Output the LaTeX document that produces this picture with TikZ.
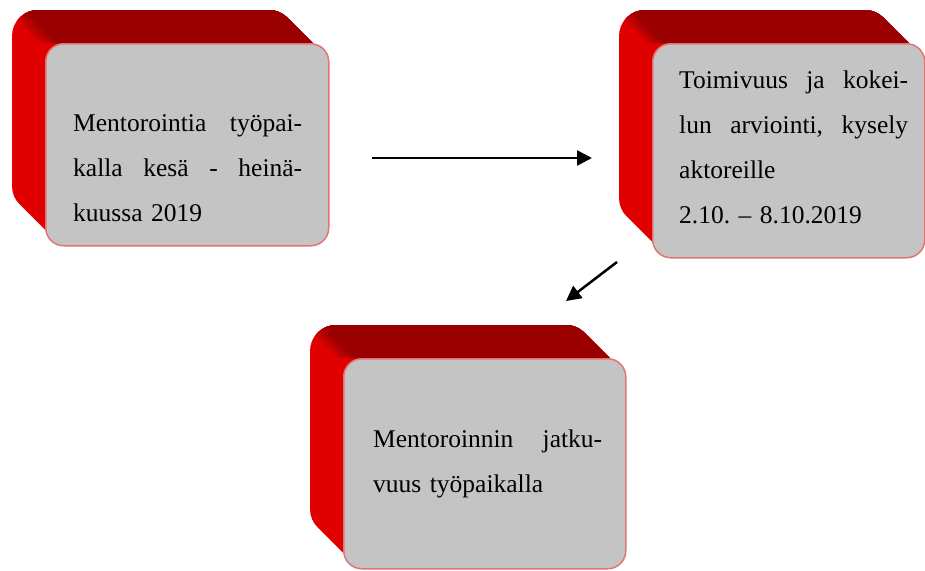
\documentclass[tikz,border=0pt]{standalone}
\usepackage{fontspec}
\setmainfont{Liberation Serif}
\frenchspacing
\usetikzlibrary{arrows.meta}
\definecolor{redL}{HTML}{E00000}
\definecolor{redD}{HTML}{9A0000}
\definecolor{faceG}{HTML}{C4C4C4}
\definecolor{edgeP}{HTML}{E07575}
\tikzset{
  face/.style={draw=edgeP, line width=1.5pt, fill=faceG, rounded corners=18pt,
    anchor=north west, inner sep=0pt},
  txt/.style={anchor=base west, text width=229pt, align=left, inner sep=0pt,
    font=\fontsize{25.5}{45}\selectfont},
  arr/.style={line width=2.5pt, -{Triangle[length=15pt,width=15pt]}}
}
% #1 front x, #2 front y, #3 width, #4 height, #5 depth
\newcommand\cubeback[5]{%
  \begin{scope}
    \clip[rounded corners=26pt] foreach \t in {0,...,#5} {(#1-\t,#2-\t) rectangle ++(#3,#4)};
    \fill[redL] (#1-#5-5,#2-#5-5) rectangle (#1+#3+5,#2+#4+5);
    \foreach \s/\c in {-6/85,-3/70,0/55,3/40,6/25,9/10,12/0}{
      \fill[redL!\c!redD] (#1-#5-12+\s,#2-#5-12) -- (#1+\s,#2) -- (#1+#3+5,#2)
        -- (#1+#3+5,#2-#5-12) -- cycle;}
  \end{scope}}
\begin{document}
\begin{tikzpicture}[x=1pt,y=-1pt]
\useasboundingbox (0,0) rectangle (925,570);
% box 1
\cubeback{45}{43}{283}{202}{33}
\node[face, minimum width=283pt, minimum height=202pt] (b1) at (45,43) {};
\node[txt] (t1) at (73,131) {Mentorointia\hfill työpai-\\kalla\hfill kesä\hfill -\hfill heinä-\\kuussa 2019};
% box 2
\cubeback{652}{43}{272}{214}{33}
\node[face, minimum width=272pt, minimum height=214pt] (b2) at (652,43) {};
\node[txt] (t2) at (679,88) {Toimivuus\hfill ja\hfill kokei-\\lun\hfill arviointi,\hfill kysely\\aktoreille\\2.10. – 8.10.2019};
% box 3
\cubeback{343}{358}{282}{210}{33}
\node[face, minimum width=282pt, minimum height=210pt] (b3) at (343,358) {};
\node[txt] (t3) at (373,447) {Mentoroinnin\hfill jatku-\\vuus työpaikalla};
% arrows
\coordinate (a1s) at (372,158);
\coordinate (a1e) at (592,158);
\coordinate (a2s) at (617,262);
\coordinate (a2e) at (566,301);
\draw[arr] (a1s) -- (a1e);
\draw[arr] (a2s) -- (a2e);
\end{tikzpicture}
\end{document}
